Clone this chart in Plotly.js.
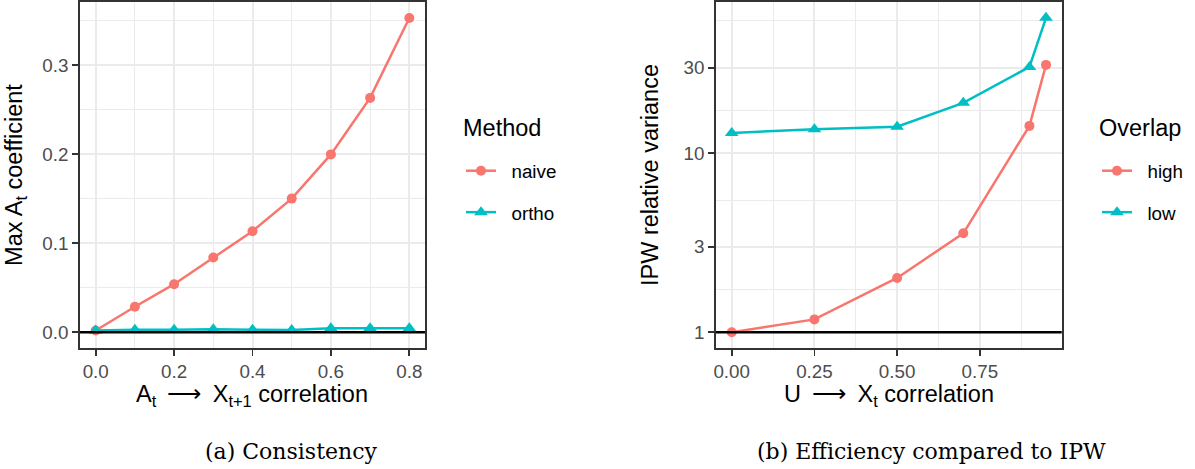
<!DOCTYPE html>
<html>
<head>
<meta charset="utf-8">
<script src="https://cdn.plot.ly/plotly-3.0.1.min.js"></script>
<style>html,body{margin:0;padding:0;background:#fff;}#chart{width:1195px;height:469px;}</style>
</head>
<body>
<div id="chart"></div>
<script>
// Panel (a): Consistency
const corrA = [0.0, 0.1, 0.2, 0.3, 0.4, 0.5, 0.6, 0.7, 0.8];
const naiveY = [0.002, 0.0287, 0.054, 0.084, 0.1134, 0.150, 0.1996, 0.263, 0.3526];
const orthoY = [0.002, 0.003, 0.003, 0.0035, 0.003, 0.0025, 0.0045, 0.0045, 0.0045];
const ticksAx = [0.0, 0.2, 0.4, 0.6, 0.8];
const ticksAy = [0.0, 0.1, 0.2, 0.3];

// Panel (b): Efficiency compared to IPW
const corrB = [0.0, 0.25, 0.5, 0.7, 0.9, 0.95];
const highY = [1.0, 1.18, 2.01, 3.57, 14.2, 31.1];
const lowY = [12.97, 13.6, 14.06, 19.1, 30.3, 57.0];
const ticksBx = [0.0, 0.25, 0.5, 0.75];
const ticksBxText = ["0.00", "0.25", "0.50", "0.75"];
const ticksBy = [1, 3, 10, 30];
const ticksByText = ["1", "3", "10", "30"];

const RED = "#F8766D", CYAN = "#00BFC4";
const FONT = "Liberation Sans, Arial, sans-serif";
const W = 1195, H = 469;
const NB = "\u00A0\u00A0";

const traces = [
  {x: corrA, y: naiveY, name: NB + "naive", type: "scatter", mode: "lines+markers",
   line: {color: RED, width: 2.5}, marker: {color: RED, size: 10, symbol: "circle"},
   xaxis: "x", yaxis: "y", legend: "legend", legendgroup: "a1"},
  {x: corrA, y: orthoY, name: NB + "ortho", type: "scatter", mode: "lines+markers",
   line: {color: CYAN, width: 2.5}, marker: {color: CYAN, size: 12, symbol: "triangle-up"},
   xaxis: "x", yaxis: "y", legend: "legend", legendgroup: "a2"},
  {x: corrB, y: highY, name: NB + "high", type: "scatter", mode: "lines+markers",
   line: {color: RED, width: 2.5}, marker: {color: RED, size: 10, symbol: "circle"},
   xaxis: "x2", yaxis: "y2", legend: "legend2", legendgroup: "b1"},
  {x: corrB, y: lowY, name: NB + "low", type: "scatter", mode: "lines+markers",
   line: {color: CYAN, width: 2.5}, marker: {color: CYAN, size: 12, symbol: "triangle-up"},
   xaxis: "x2", yaxis: "y2", legend: "legend2", legendgroup: "b2"}
];

const axCommon = {
  showline: true, mirror: true, linecolor: "#333333", linewidth: 1.8,
  ticks: "outside", ticklen: 6, tickwidth: 1.8, tickcolor: "#333333",
  showgrid: true, gridcolor: "#EBEBEB", gridwidth: 2, zeroline: false,
  tickfont: {family: FONT, size: 18.8, color: "#4D4D4D"},
  fixedrange: true
};
const minorGrid = (vals) => ({tickmode: "array", tickvals: vals, showgrid: true, gridcolor: "#EBEBEB", gridwidth: 1, ticks: ""});
const ARROW = "\u2009\u27F6\u2009";
const titleFont = {family: FONT, size: 23.5, color: "#000"};

const layout = {
  width: W, height: H,
  margin: {l: 0, r: 0, t: 0, b: 0},
  paper_bgcolor: "#ffffff", plot_bgcolor: "#ffffff",
  font: {family: FONT, color: "#000000"},
  xaxis: Object.assign({}, axCommon, {
    domain: [80 / W, 425 / W], anchor: "y",
    range: [-0.04, 0.84], tickmode: "array", tickvals: ticksAx, tickformat: ".1f",
    minor: minorGrid([0.1, 0.3, 0.5, 0.7])
  }),
  yaxis: Object.assign({}, axCommon, {
    domain: [(H - 348) / H, (H - 2) / H], anchor: "x",
    range: [-0.0176, 0.3706], tickmode: "array", tickvals: ticksAy, tickformat: ".1f",
    minor: minorGrid([0.05, 0.15, 0.25, 0.35]),
    title: {text: "Max A<sub>t</sub> coefficient", font: titleFont}
  }),
  xaxis2: Object.assign({}, axCommon, {
    domain: [716 / W, 1061.7 / W], anchor: "y2",
    range: [-0.0475, 0.9975], tickmode: "array", tickvals: ticksBx, ticktext: ticksBxText,
    minor: minorGrid([0.125, 0.375, 0.625, 0.875])
  }),
  yaxis2: Object.assign({}, axCommon, {
    domain: [(H - 348) / H, (H - 2) / H], anchor: "x2",
    type: "log", range: [-0.0878, 1.844], tickmode: "array", tickvals: ticksBy, ticktext: ticksByText,
    minor: minorGrid([1.732, 5.477, 17.32, 54.77]),
    title: {text: "IPW relative variance", font: titleFont}
  }),
  legend: {
    x: 461 / W, xanchor: "left", y: (H - 152) / H, yanchor: "top",
    bgcolor: "rgba(0,0,0,0)", borderwidth: 0, tracegroupgap: 14,
    font: {family: FONT, size: 18.8, color: "#000"}
  },
  legend2: {
    x: 1097 / W, xanchor: "left", y: (H - 152) / H, yanchor: "top",
    bgcolor: "rgba(0,0,0,0)", borderwidth: 0, tracegroupgap: 14,
    font: {family: FONT, size: 18.8, color: "#000"}
  },
  shapes: [
    {type: "line", xref: "x domain", yref: "y", x0: 0, x1: 1, y0: 0, y1: 0, line: {color: "#000", width: 2.5}, layer: "above"},
    {type: "line", xref: "x2 domain", yref: "y2", x0: 0, x1: 1, y0: 1, y1: 1, line: {color: "#000", width: 2.5}, layer: "above"}
  ],
  annotations: [
    {text: "A<sub>t</sub> " + ARROW + " X<sub>t+1</sub> correlation", xref: "x domain", yref: "paper",
     x: 0.5, y: (H - 395) / H, xanchor: "center", yanchor: "middle", showarrow: false, font: titleFont},
    {text: "U " + ARROW + " X<sub>t</sub> correlation", xref: "x2 domain", yref: "paper",
     x: 0.5, y: (H - 395) / H, xanchor: "center", yanchor: "middle", showarrow: false, font: titleFont},
    {text: "Method", xref: "paper", yref: "paper", x: 461 / W, y: (H - 128) / H,
     xanchor: "left", yanchor: "middle", showarrow: false, font: titleFont},
    {text: "Overlap", xref: "paper", yref: "paper", x: 1097 / W, y: (H - 128) / H,
     xanchor: "left", yanchor: "middle", showarrow: false, font: titleFont},
    {text: "(a) Consistency", xref: "paper", yref: "paper", x: 291 / W, y: (H - 451) / H,
     xanchor: "center", yanchor: "middle", showarrow: false,
     font: {family: "DejaVu Serif, serif", size: 22, color: "#000"}},
    {text: "(b) Efficiency compared to IPW", xref: "paper", yref: "paper", x: 932 / W, y: (H - 451) / H,
     xanchor: "center", yanchor: "middle", showarrow: false,
     font: {family: "DejaVu Serif, serif", size: 22, color: "#000"}}
  ]
};

Plotly.newPlot("chart", traces, layout, {displayModeBar: false, staticPlot: true});
</script>
</body>
</html>
